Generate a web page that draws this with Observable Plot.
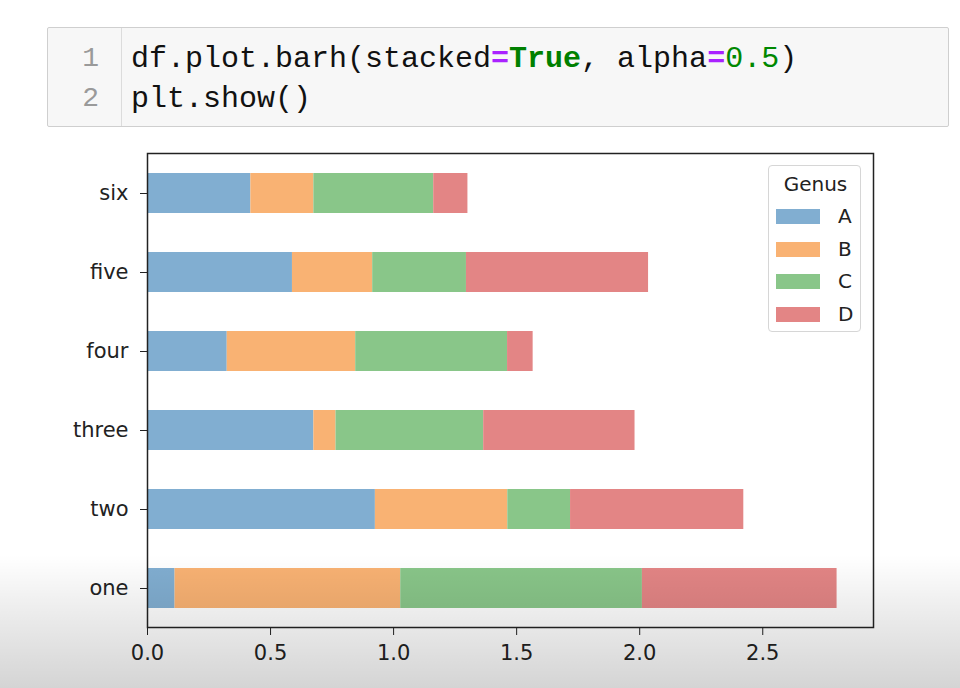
<!DOCTYPE html>
<html>
<head>
<meta charset="utf-8">
<script src="https://cdn.jsdelivr.net/npm/d3@7"></script>
<script src="https://cdn.jsdelivr.net/npm/@observablehq/plot@0.6"></script>
<style>
  html, body { margin: 0; padding: 0; background: #fff; }
  body { width: 960px; height: 688px; position: relative; overflow: hidden; font-family: "DejaVu Sans", sans-serif; }
  #cell { position: absolute; left: 47px; top: 27px; width: 900px; height: 98px; background: #f7f7f7; border: 1px solid #cfcfcf; border-radius: 2px; }
  #gutter { position: absolute; left: 0; top: 0; width: 73px; height: 98px; border-right: 1px solid #dcdcdc; }
  .ln { position: absolute; right: 22px; font-family: "Liberation Mono", monospace; font-size: 28px; color: #9a9a9a; line-height: 40px; }
  .code { position: absolute; left: 83px; font-family: "Liberation Mono", monospace; font-size: 30px; color: #111; line-height: 40px; white-space: pre; }
  .op { color: #aa22ff; font-weight: bold; }
  .kw { color: #008000; font-weight: bold; }
  .num { color: #008800; }
  #chart { position: absolute; left: 0; top: 140px; }
  #legend { position: absolute; left: 768px; top: 165px; width: 93px; height: 167px; border: 1px solid #d6d6d6; border-radius: 4px; background: rgba(255,255,255,0.85); box-sizing: border-box; }
  #legend .title { position: absolute; left: 0; width: 93px; top: 6px; text-align: center; font-size: 20px; color: #222; }
  #legend .row { position: absolute; left: 7px; height: 20px; }
  #legend .sw { position: absolute; left: 0; top: 3px; width: 44px; height: 15px; }
  #legend .lb { position: absolute; left: 62px; top: -2px; font-size: 20px; color: #222; }
  #shade { position: absolute; left: 0; top: 0; width: 960px; height: 688px; pointer-events: none;
    background: linear-gradient(to bottom, rgba(0,0,0,0) 0px, rgba(0,0,0,0) 555px, rgba(0,0,0,0.06) 600px, rgba(0,0,0,0.17) 688px); }
</style>
</head>
<body>
<div id="cell">
  <div id="gutter"></div>
  <div class="ln" style="top:11px; left:0; width:51px; text-align:right;">1</div>
  <div class="ln" style="top:51px; left:0; width:51px; text-align:right;">2</div>
  <div class="code" style="top:11px;">df.plot.barh(stacked<span class="op">=</span><span class="kw">True</span>, alpha<span class="op">=</span><span class="num">0.5</span>)</div>
  <div class="code" style="top:51px;">plt.show()</div>
</div>
<div id="chart"></div>
<div id="legend"></div>
<div id="shade"></div>
<script>
// Data
const categories = ["one", "two", "three", "four", "five", "six"];
const genera = ["A", "B", "C", "D"];
const valuesA = [0.112, 0.926, 0.676, 0.324, 0.589, 0.420];
const valuesB = [0.917, 0.538, 0.090, 0.522, 0.326, 0.256];
const valuesC = [0.982, 0.255, 0.600, 0.617, 0.381, 0.487];
const valuesD = [0.791, 0.704, 0.615, 0.104, 0.740, 0.139];
const xTicks = [0, 0.5, 1.0, 1.5, 2.0, 2.5];
const colors = ["#81aed1", "#f9b273", "#89c689", "#e38585"];

const series = {A: valuesA, B: valuesB, C: valuesC, D: valuesD};
const rows = [];
categories.forEach((c, i) => {
  genera.forEach(g => rows.push({category: c, genus: g, value: series[g][i]}));
});

const chart = Plot.plot({
  width: 960,
  height: 548,
  marginLeft: 147,
  marginRight: 87,
  marginTop: 13,
  marginBottom: 61,
  style: {fontFamily: "DejaVu Sans, sans-serif", fontSize: "20px", color: "#222", background: "transparent"},
  x: {domain: [0, 2.95], ticks: xTicks, tickFormat: d3.format(".1f"), label: null, tickSize: 8, tickPadding: 10},
  y: {domain: categories.slice().reverse(), paddingInner: 0.5, paddingOuter: 0.25, label: null, tickSize: 7, tickPadding: 12},
  color: {domain: genera, range: colors},
  marks: [
    Plot.barX(rows, Plot.stackX({x: "value", y: "category", fill: "genus", order: null, inset: 0})),
    Plot.frame({stroke: "#222", strokeWidth: 1.5}),
    Plot.axisX({ticks: xTicks, tickFormat: d3.format(".1f"), tickSize: 8, tickPadding: 10, stroke: "#222", fill: "#222", fontSize: 21}),
    Plot.axisY({tickSize: 7, tickPadding: 12, stroke: "#222", fill: "#222", fontSize: 21})
  ]
});
document.getElementById("chart").appendChild(chart);

// Legend (HTML), built from the same color scale
const leg = document.getElementById("legend");
const scale = chart.scale("color");
let html = '<div class="title">Genus</div>';
scale.domain.forEach((g, i) => {
  html += `<div class="row" style="top:${40 + i * 32.7}px"><div class="sw" style="background:${scale.range[i]}"></div><div class="lb">${g}</div></div>`;
});
leg.innerHTML = html;
</script>
</body>
</html>
